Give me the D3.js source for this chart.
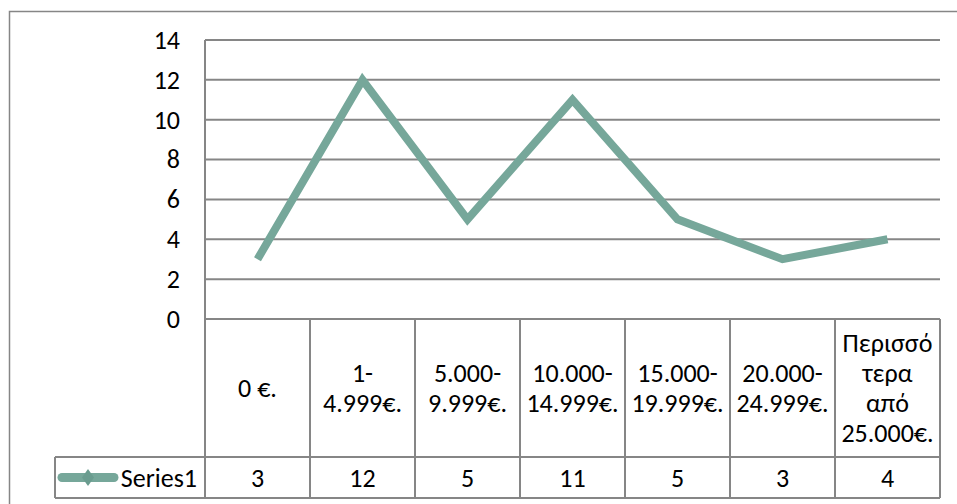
<!DOCTYPE html>
<html><head><meta charset="utf-8">
<script src="https://cdn.jsdelivr.net/npm/d3@7"></script>
<style>body{margin:0;background:#fff}svg{display:block}text{font-family:Carlito,Lato,"Noto Sans",sans-serif;fill:#000}</style>
</head><body>
<svg id="c" width="957" height="504"></svg>
<script>
const categories = [["0 €."],["1-","4.999€."],["5.000-","9.999€."],["10.000-","14.999€."],["15.000-","19.999€."],["20.000-","24.999€."],["Περισσό","τερα","από","25.000€."]];
const values = [3,12,5,11,5,3,4];
const seriesName = "Series1";
const yTicks = [0,2,4,6,8,10,12,14];

(function(){
const svg = d3.select("#c");
const grid = "#868686", lineColor = "#76a79a";
const pL = 205, pR = 940, pT = 40, pB = 319, headBottom = 457, rowBottom = 498;
const fs = 26;

svg.append("rect").attr("x",9.5).attr("y",11.5).attr("width",960).attr("height",500)
  .attr("fill","none").attr("stroke",grid).attr("stroke-width",1.5);

const x = d3.scaleBand().domain(d3.range(values.length)).range([pL,pR]).padding(0);
const y = d3.scaleLinear().domain([0,14]).range([pB,pT]);

svg.append("g").selectAll("line").data(yTicks).join("line")
  .attr("x1",pL).attr("x2",pR).attr("y1",d=>y(d)).attr("y2",d=>y(d))
  .attr("stroke",grid).attr("stroke-width",2);
svg.append("line").attr("x1",pL).attr("x2",pL).attr("y1",pT).attr("y2",rowBottom).attr("stroke",grid).attr("stroke-width",2);

const yAxis = d3.axisLeft(y).tickValues(yTicks).tickSize(0).tickPadding(25);
const ga = svg.append("g").attr("transform",`translate(${pL},0)`).call(yAxis);
ga.select(".domain").remove();
ga.selectAll("text").attr("font-size",fs).attr("font-family",'Carlito,Lato,"Noto Sans",sans-serif').attr("fill","#000");

const tg = svg.append("g").attr("stroke",grid).attr("stroke-width",2);
d3.range(values.length+1).forEach(i=>{
  const xx = i<values.length ? x(i) : pR;
  tg.append("line").attr("x1",xx).attr("x2",xx).attr("y1",pB).attr("y2",rowBottom);
});
tg.append("line").attr("x1",55).attr("x2",55).attr("y1",headBottom).attr("y2",rowBottom);
tg.append("line").attr("x1",55).attr("x2",pR).attr("y1",headBottom).attr("y2",headBottom);
tg.append("line").attr("x1",55).attr("x2",pR).attr("y1",rowBottom).attr("y2",rowBottom);

const lh = 30;
categories.forEach((lines,i)=>{
  const cx = x(i)+x.bandwidth()/2;
  const cy = (pB+headBottom)/2;
  const t = svg.append("text").attr("text-anchor","middle").attr("font-size",fs);
  lines.forEach((s,k)=>{
    t.append("tspan").attr("x",cx).attr("y",cy+(k-(lines.length-1)/2)*lh).attr("dy","0.35em").text(s);
  });
});
svg.append("g").selectAll("text").data(values).join("text")
  .attr("x",(d,i)=>x(i)+x.bandwidth()/2).attr("y",(headBottom+rowBottom)/2).attr("dy","0.35em")
  .attr("text-anchor","middle").attr("font-size",fs).text(d=>d);

const ly = (headBottom+rowBottom)/2;
svg.append("line").attr("x1",62).attr("x2",114).attr("y1",ly).attr("y2",ly)
  .attr("stroke",lineColor).attr("stroke-width",9).attr("stroke-linecap","round");
svg.append("path").attr("d","M0,-8.5L6,0L0,8.5L-6,0Z").attr("transform",`translate(88,${ly})`).attr("fill","#6a9c8f");
svg.append("text").attr("x",197).attr("y",ly).attr("dy","0.35em").attr("text-anchor","end").attr("font-size",fs).text(seriesName);

const line = d3.line().x((d,i)=>x(i)+x.bandwidth()/2).y(d=>y(d));
svg.append("path").datum(values).attr("d",line).attr("fill","none")
  .attr("stroke",lineColor).attr("stroke-width",8).attr("stroke-linejoin","miter");
})();
</script>
</body></html>
